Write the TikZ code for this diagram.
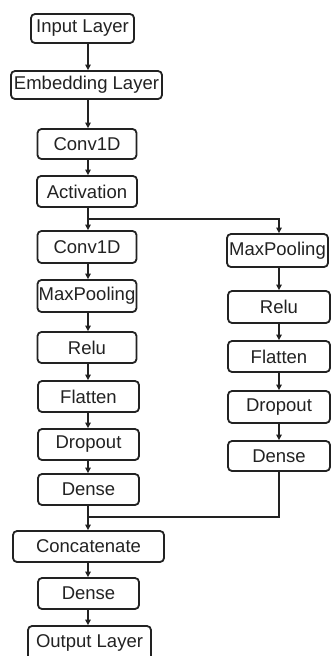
\documentclass[tikz,border=0pt]{standalone}
\usepackage{fontspec}
\setmainfont{Liberation Sans}
\usetikzlibrary{arrows.meta}
\definecolor{ink}{HTML}{222222}
\tikzset{
  layer/.style={draw=ink, text=ink, line width=1.8pt, rounded corners=4pt, fill=white,
    inner sep=0pt, font=\fontsize{18.5}{21}\selectfont},
  flow/.style={draw=ink, line width=1.7pt, -{Triangle[length=5.5pt,width=5.5pt]}},
  link/.style={draw=ink, line width=1.7pt}
}
\begin{document}
\begin{tikzpicture}[x=1pt, y=-1pt]
\useasboundingbox (0,0) rectangle (332,656);
\fill[white] (0,0) rectangle (332,656);

% axes of the two columns
\coordinate (lx) at (88,0);
\coordinate (rx) at (279,0);

% main column
\node[layer, minimum width=103pt, minimum height=29pt] (inp)  at (82.5,28.5)  {Input Layer};
\node[layer, minimum width=151pt, minimum height=28pt] (emb)  at (86.5,85)    {Embedding Layer};
\node[layer, minimum width=99pt,  minimum height=30pt] (cv1)  at (87,144)     {Conv1D};
\node[layer, minimum width=100pt, minimum height=31pt] (act)  at (87,191.5)   {Activation};
\node[layer, minimum width=99pt,  minimum height=32pt] (cv2)  at (87,247)     {Conv1D};
\node[layer, minimum width=99pt,  minimum height=32pt] (mpl)  at (87,296)     {MaxPooling};
\node[layer, minimum width=99pt,  minimum height=31pt] (rel)  at (87,347.5)   {Relu};
\node[layer, minimum width=101pt, minimum height=31pt] (fll)  at (88.5,396.5) {Flatten};
\node[layer, minimum width=101pt, minimum height=31pt] (drl)  at (88.5,444.5) {Dropout};
\node[layer, minimum width=101pt, minimum height=31pt] (dnl)  at (88.5,489.5) {Dense};
\node[layer, minimum width=151pt, minimum height=31pt] (cat)  at (88.5,546.5) {Concatenate};
\node[layer, minimum width=101pt, minimum height=31pt] (dns)  at (88.5,593.5) {Dense};
\node[layer, minimum width=123pt, minimum height=34pt] (out)  at (89.5,643)   {Output Layer};

% side branch
\node[layer, minimum width=101pt, minimum height=33pt] (mpr)  at (277.5,250.5) {MaxPooling};
\node[layer, minimum width=102pt, minimum height=32pt] (rer)  at (279,307)     {Relu};
\node[layer, minimum width=102pt, minimum height=31pt] (flr)  at (279,356.5)   {Flatten};
\node[layer, minimum width=102pt, minimum height=32pt] (drr)  at (279,407)     {Dropout};
\node[layer, minimum width=102pt, minimum height=30pt] (dnr)  at (279,456)     {Dense};

% split and merge points
\coordinate (split) at (88,219);
\coordinate (merge) at (88,517);

% main column connectors
\draw[flow] (inp.south -| lx) -- (emb.north -| lx);
\draw[flow] (emb.south -| lx) -- (cv1.north -| lx);
\draw[flow] (cv1.south -| lx) -- (act.north -| lx);
\draw[flow] (act.south -| lx) -- (cv2.north -| lx);
\draw[flow] (cv2.south -| lx) -- (mpl.north -| lx);
\draw[flow] (mpl.south -| lx) -- (rel.north -| lx);
\draw[flow] (rel.south -| lx) -- (fll.north -| lx);
\draw[flow] (fll.south -| lx) -- (drl.north -| lx);
\draw[flow] (drl.south -| lx) -- (dnl.north -| lx);
\draw[flow] (dnl.south -| lx) -- (cat.north -| lx);
\draw[flow] (cat.south -| lx) -- (dns.north -| lx);
\draw[flow] (dns.south -| lx) -- (out.north -| lx);

% branch connectors
\draw[flow] (split) -| (mpr.north -| rx);
\draw[flow] (mpr.south -| rx) -- (rer.north -| rx);
\draw[flow] (rer.south -| rx) -- (flr.north -| rx);
\draw[flow] (flr.south -| rx) -- (drr.north -| rx);
\draw[flow] (drr.south -| rx) -- (dnr.north -| rx);
\draw[link] (dnr.south -| rx) |- (merge);
\end{tikzpicture}
\end{document}
